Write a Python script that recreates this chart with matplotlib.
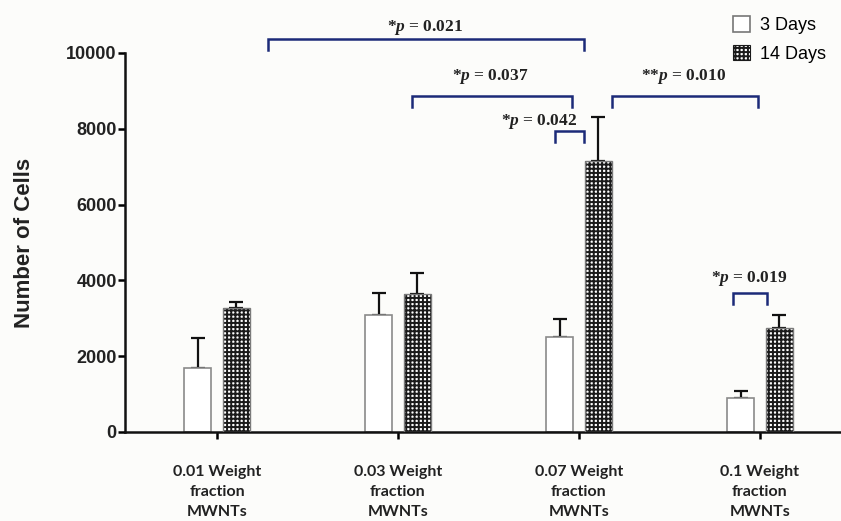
import matplotlib
matplotlib.use("Agg")
import matplotlib.pyplot as plt
import numpy as np
from matplotlib.patches import Patch

# ---- data ----
categories = ["0.01 Weight\nfraction\nMWNTs", "0.03 Weight\nfraction\nMWNTs",
              "0.07 Weight\nfraction\nMWNTs", "0.1 Weight\nfraction\nMWNTs"]
days3 = [1700, 3100, 2510, 890]
days3_err = [780, 570, 460, 190]
days14 = [3260, 3650, 7150, 2750]
days14_err = [160, 540, 1150, 350]
series_labels = ["3 Days", "14 Days"]
yticks = [0, 2000, 4000, 6000, 8000, 10000]

# significance brackets: (x_left, x_right, y_top, label, label_x, label_y)
brackets = [
    (0.28, 2.03, 10370, "*$p$ = 0.021", 1.15, 10660),
    (1.08, 1.96, 8865, "*$p$ = 0.037", 1.51, 9390),
    (1.87, 2.03, 7940, "*$p$ = 0.042", 1.78, 8190),
    (2.18, 2.99, 8865, "**$p$ = 0.010", 2.58, 9390),
    (2.85, 3.04, 3670, "*$p$ = 0.019", 2.94, 4050),
]
bracket_drop = 290

plt.rcParams['hatch.linewidth'] = 1.4
plt.rcParams['mathtext.fontset'] = 'custom'
plt.rcParams['mathtext.it'] = 'Liberation Serif:italic:bold'
plt.rcParams['mathtext.rm'] = 'Liberation Serif:bold'

bg = '#fcfcfa'
fig = plt.figure(figsize=(8.41, 5.21), dpi=100, facecolor=bg)
ax = fig.add_axes([125/841, (521-432)/521, (841-125)/841, (432-53)/521])
ax.set_facecolor(bg)

x = np.arange(len(categories))
off = 0.106
w = 0.15
ax.bar(x - off, days3, w, color='white', edgecolor='#8a8a8a', linewidth=1.2,
       label=series_labels[0], zorder=2)
# checkered fill (hatch in black) + grey outline
ax.bar(x + off, days14, w, color='white', edgecolor='#1a1a1a', hatch='++++',
       linewidth=0, zorder=2)
ax.bar(x + off, days14, w, color='none', edgecolor='#7a7a7a',
       linewidth=1.0, zorder=3)
ax.errorbar(x - off, days3, yerr=[np.zeros(len(days3)), days3_err], fmt='none',
            ecolor='#111111', elinewidth=1.6, capsize=5, capthick=1.6, zorder=1)
ax.errorbar(x + off, days14, yerr=[np.zeros(len(days14)), days14_err], fmt='none',
            ecolor='#111111', elinewidth=1.6, capsize=5, capthick=1.6, zorder=1)

navy = '#1c2a78'
for xl, xr, yt, lab, lx, ly in brackets:
    ax.plot([xl, xl, xr, xr], [yt - bracket_drop, yt, yt, yt - bracket_drop],
            color=navy, lw=1.8, clip_on=False, solid_joinstyle='miter')
    ax.text(lx, ly, lab, ha='center', va='center', fontsize=12.5,
            fontfamily='Liberation Serif', fontweight='bold', color='#222222',
            clip_on=False)

ax.set_xlim(-0.508, 3.448)
ax.set_ylim(0, 10000)
ax.set_yticks(yticks)
ax.set_yticklabels([str(t) for t in yticks], fontsize=13, fontweight='bold',
                   fontfamily='Liberation Sans', color='#222222')
ax.set_xticks(x)
ax.set_xticklabels(categories, fontsize=11.5, fontweight='bold',
                   fontfamily='Lato', color='#222222', linespacing=1.55)
ax.tick_params(axis='x', length=5, width=1.8, pad=19)
ax.tick_params(axis='y', length=5, width=1.8, pad=1)
for s in ['top', 'right']:
    ax.spines[s].set_visible(False)
for s in ['left', 'bottom']:
    ax.spines[s].set_linewidth(1.8)
    ax.spines[s].set_color('#111111')

ax.set_ylabel("Number of Cells", fontsize=16, fontweight='bold',
              fontfamily='Liberation Sans', color='#222222')
ax.yaxis.set_label_coords(-0.126, 0.5)

handles = [Patch(facecolor='white', edgecolor='#777777', linewidth=1.2),
           Patch(facecolor='white', edgecolor='#1a1a1a', hatch='++++', linewidth=0.8)]
leg = fig.legend(handles, series_labels, loc='upper left',
                 bbox_to_anchor=(733/841, 1 - 16/521),
                 frameon=False, prop={'family': 'Liberation Sans', 'size': 13},
                 handlelength=0.95, handleheight=0.95, handletextpad=0.55,
                 labelspacing=0.6, borderpad=0, borderaxespad=0)

fig.savefig("out.png", dpi=100, facecolor=bg)
